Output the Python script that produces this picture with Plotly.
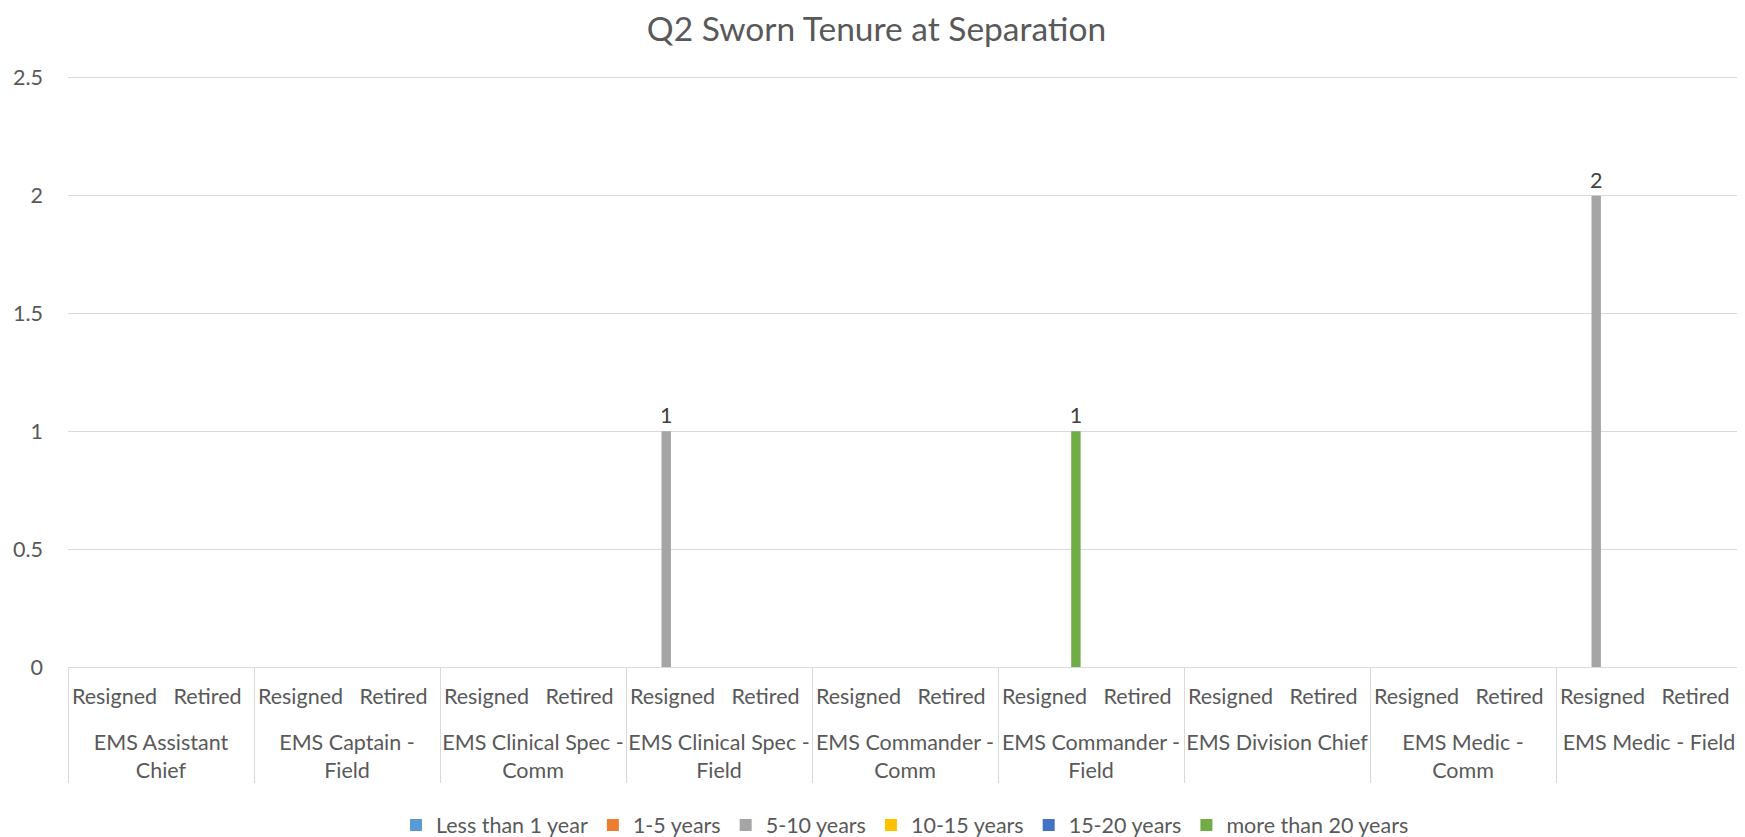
import plotly.graph_objects as go

groups = ["<br>EMS Assistant<br>Chief", "<br>EMS Captain -<br>Field", "<br>EMS Clinical Spec -<br>Comm",
          "<br>EMS Clinical Spec -<br>Field", "<br>EMS Commander -<br>Comm", "<br>EMS Commander -<br>Field",
          "<br>EMS Division Chief", "<br>EMS Medic -<br>Comm", "<br>EMS Medic - Field"]
subs = ["Resigned", "Retired"]

series_names = ["Less than 1 year", "1-5 years", "5-10 years", "10-15 years", "15-20 years", "more than 20 years"]
colors = ["#5B9BD5", "#ED7D31", "#A5A5A5", "#FFC000", "#4472C4", "#70AD47"]

# values per (group, sub) in order: group0-Resigned, group0-Retired, group1-Resigned, ...
less_than_1 = [None] * 18
y1_5 = [None] * 18
y5_10 = [None, None, None, None, None, None, 1, None, None, None, None, None, None, None, None, None, 2, None]
y10_15 = [None] * 18
y15_20 = [None] * 18
more_than_20 = [None, None, None, None, None, None, None, None, None, None, 1, None, None, None, None, None, None, None]
values = [less_than_1, y1_5, y5_10, y10_15, y15_20, more_than_20]

x_groups = [g for g in groups for s in subs]
x_subs = [s for g in groups for s in subs]

FONT = "Lato"
FS = 21.5
W, H = 1737, 829  # page body has an 8px offset
fig = go.Figure()
for name, col, vals in zip(series_names, colors, values):
    fig.add_trace(go.Bar(
        x=[x_groups, x_subs], y=vals, name=name,
        marker=dict(color=col, line=dict(width=0)),
        text=["" if v is None else str(v) for v in vals],
        textposition="outside", cliponaxis=False, constraintext="none",
        textfont=dict(family=FONT, size=FS, color="#404040"),
    ))

fig.update_layout(
    width=W, height=H,
    margin=dict(l=60, r=3, t=68, b=170, autoexpand=False),
    paper_bgcolor="white", plot_bgcolor="white",
    barmode="group", bargap=0.19, bargroupgap=0.25,
    title=dict(text="Q2 Sworn Tenure at Separation", x=0.5, xanchor="center",
               y=1 - 21 / H, yanchor="middle",
               font=dict(family=FONT, size=33.5, color="#595959")),
    font=dict(family=FONT, color="#595959"),
    legend=dict(orientation="h", x=0.5, xanchor="center", yref="container",
                y=1 - 817 / H, yanchor="middle",
                font=dict(family=FONT, size=FS, color="#595959"),
                itemwidth=30, traceorder="normal"),
    showlegend=True,
)
fig.update_xaxes(
    type="multicategory", showgrid=False, showline=True, linecolor="#D9D9D9", linewidth=1,
    showdividers=True, dividercolor="#D9D9D9", dividerwidth=1, ticks="", tickangle=0,
    automargin=False, ticklabelstandoff=10,
    tickfont=dict(family=FONT, size=FS, color="#595959"),
)
fig.update_yaxes(
    range=[0, 2.508], tickvals=[0, 0.5, 1, 1.5, 2, 2.5], ticktext=["0", "0.5", "1", "1.5", "2", "2.5"],
    showgrid=True, gridcolor="#D9D9D9", gridwidth=1, zeroline=False, showline=False,
    ticks="", ticklabelstandoff=24, automargin=False,
    tickfont=dict(family=FONT, size=FS, color="#595959"),
)
fig.write_html("out.html")
